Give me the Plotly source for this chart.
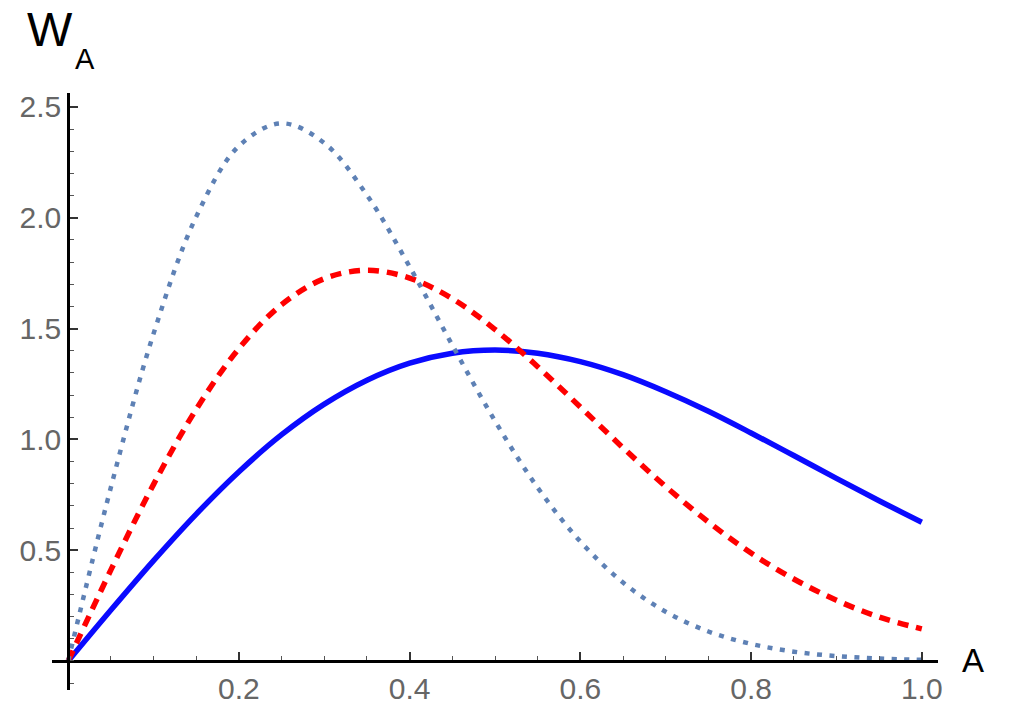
import numpy as np
import plotly.graph_objects as go

# Data
A_values = [0.00, 0.05, 0.10, 0.15, 0.20, 0.25, 0.30, 0.35, 0.40, 0.45, 0.50,
            0.55, 0.60, 0.65, 0.70, 0.75, 0.80, 0.85, 0.90, 0.95, 1.00]
W_solid = [0.000, 0.230, 0.453, 0.663, 0.854, 1.021, 1.159, 1.267, 1.344, 1.389, 1.403,
           1.389, 1.351, 1.292, 1.215, 1.127, 1.029, 0.927, 0.824, 0.723, 0.626]
W_dashed = [0.000, 0.411, 0.797, 1.136, 1.410, 1.608, 1.725, 1.763, 1.728, 1.635, 1.496,
            1.328, 1.146, 0.962, 0.787, 0.627, 0.487, 0.370, 0.274, 0.198, 0.145]
W_dotted = [0.000, 0.784, 1.477, 2.005, 2.324, 2.426, 2.337, 2.102, 1.779, 1.425, 1.083,
            0.782, 0.539, 0.354, 0.222, 0.133, 0.077, 0.042, 0.022, 0.011, 0.005]

x_tick_vals = [0.2, 0.4, 0.6, 0.8, 1.0]
x_tick_text = ["0.2", "0.4", "0.6", "0.8", "1.0"]
y_tick_vals = [0.5, 1.0, 1.5, 2.0, 2.5]
y_tick_text = ["0.5", "1.0", "1.5", "2.0", "2.5"]

XR = [-0.019, 1.019]
YR = [-0.131, 2.563]

fig = go.Figure()
fig.add_trace(go.Scatter(x=A_values, y=W_solid, mode="lines",
                         line=dict(color="#0a0aff", width=5.5, shape="spline")))
fig.add_trace(go.Scatter(x=A_values, y=W_dashed, mode="lines",
                         line=dict(color="#ff0000", width=5.5, shape="spline", dash="11px,8px")))
fig.add_trace(go.Scatter(x=A_values, y=W_dotted, mode="lines",
                         line=dict(color="#5e81b5", width=4.5, shape="spline", dash="5px,7.5px")))

tickfont = dict(family="Liberation Sans, Arial, sans-serif", size=30, color="#666666")

fig.update_layout(
    width=1010, height=720,
    margin=dict(l=52, r=72, t=93, b=30),
    paper_bgcolor="white", plot_bgcolor="white",
    showlegend=False,
    xaxis=dict(range=XR, anchor="free", position=(0 - YR[0]) / (YR[1] - YR[0]),
               showgrid=False, zeroline=False, showline=True, linecolor="black", linewidth=3,
               tickmode="array", tickvals=x_tick_vals, ticktext=x_tick_text,
               ticks="inside", ticklen=8, tickwidth=1.5, tickcolor="#333333",
               tickfont=tickfont,
               minor=dict(tickmode="array", tickvals=list(np.round(np.arange(0.05, 1.01, 0.05), 2)),
                          ticks="inside", ticklen=4, tickwidth=1.2, tickcolor="#555555")),
    yaxis=dict(range=YR, anchor="free", position=(0 - XR[0]) / (XR[1] - XR[0]),
               showgrid=False, zeroline=False, showline=True, linecolor="black", linewidth=3,
               tickmode="array", tickvals=y_tick_vals, ticktext=y_tick_text,
               ticks="inside", ticklen=8, tickwidth=1.5, tickcolor="#333333",
               tickfont=tickfont,
               minor=dict(tickmode="array", tickvals=list(np.round(np.arange(-0.1, 2.55, 0.1), 2)),
                          ticks="inside", ticklen=4, tickwidth=1.2, tickcolor="#555555")),
    annotations=[
        dict(text="W", xref="paper", yref="paper", x=(25 - 52) / 886, y=(720 - 30 - 58) / 597,
             xanchor="left", yanchor="bottom", showarrow=False,
             font=dict(family="Liberation Sans, Arial, sans-serif", size=48, color="black")),
        dict(text="A", xref="paper", yref="paper", x=(73 - 52) / 886, y=(720 - 30 - 77) / 597,
             xanchor="left", yanchor="bottom", showarrow=False,
             font=dict(family="Liberation Sans, Arial, sans-serif", size=29, color="black")),
        dict(text="A", xref="paper", yref="paper", x=(973 - 52) / 886, y=(720 - 30 - 660) / 597,
             xanchor="center", yanchor="middle", showarrow=False,
             font=dict(family="Liberation Sans, Arial, sans-serif", size=33, color="black")),
    ],
)

fig.write_html("out.html", config={"displayModeBar": False},
               post_script="document.body.style.margin='0';")
